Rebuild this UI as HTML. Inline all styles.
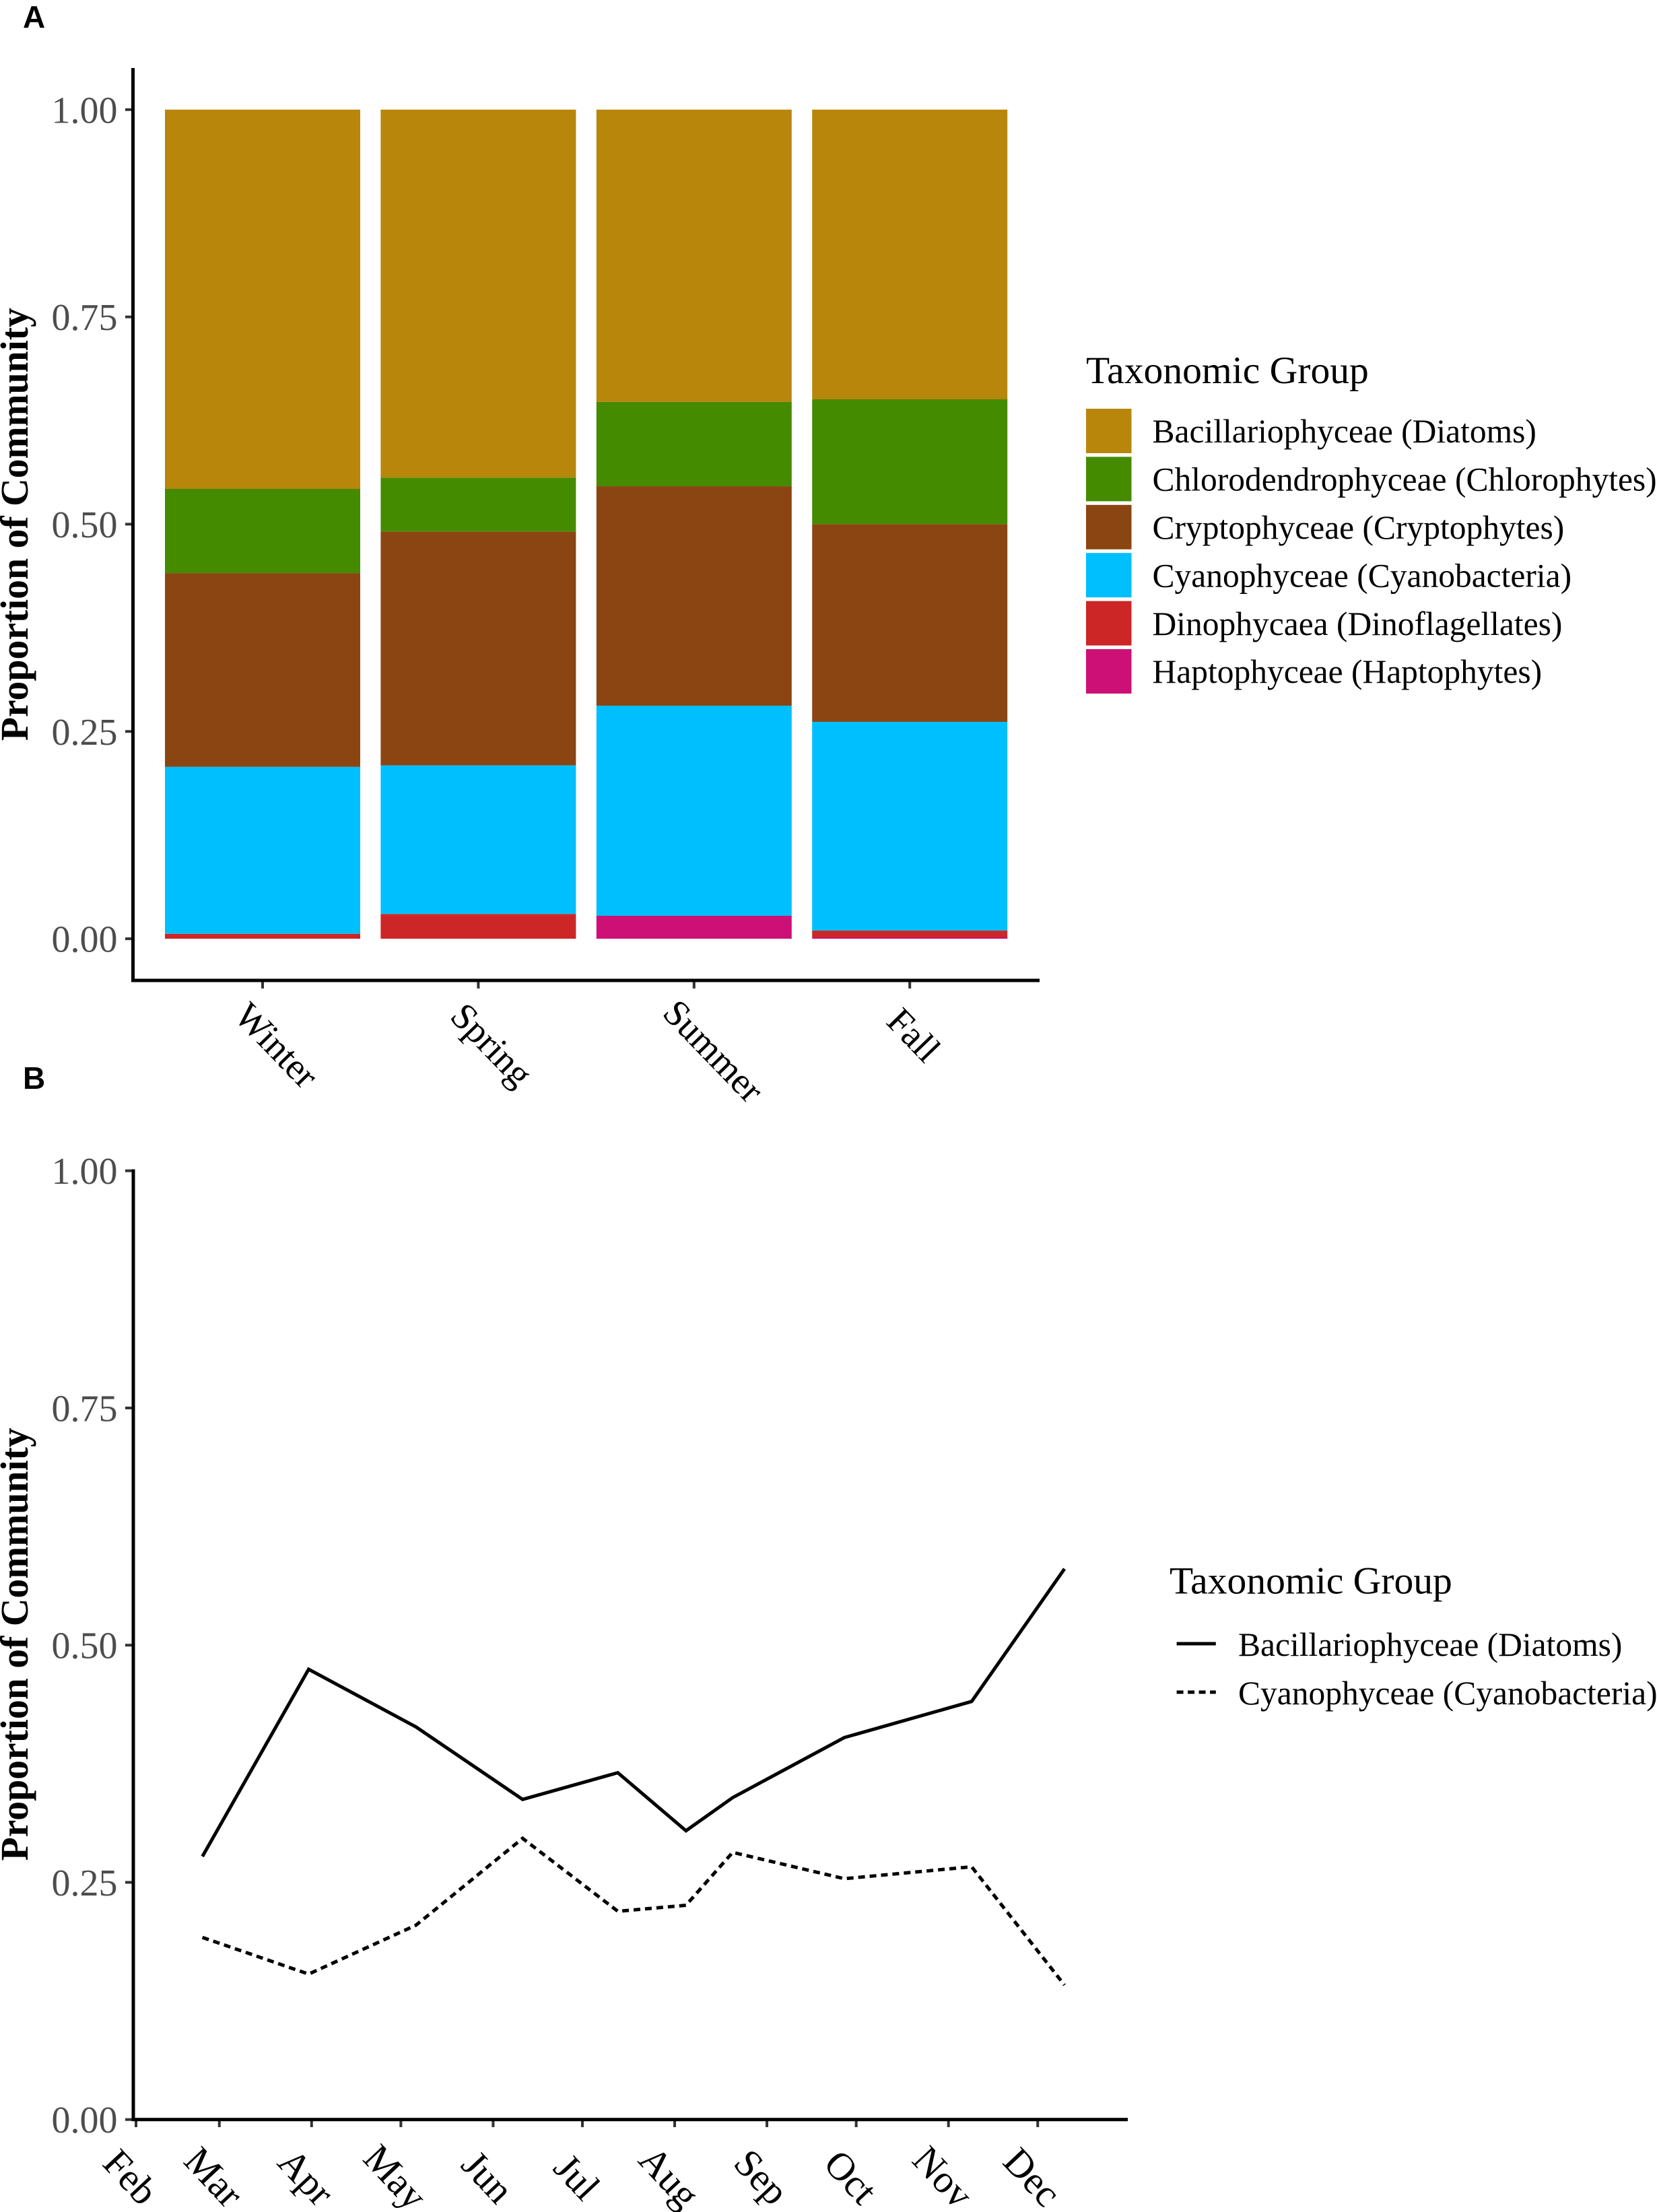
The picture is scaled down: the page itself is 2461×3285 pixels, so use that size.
<!DOCTYPE html>
<html lang="en">
<head>
<meta charset="utf-8">
<title>Proportion of phytoplankton community by season and month</title>
<style>
html,body{margin:0;padding:0;background:#fff;}
svg{display:block;}
text{font-family:"Liberation Serif",serif;}
</style>
</head>
<body>
<svg id="figure" xmlns="http://www.w3.org/2000/svg" width="2461" height="3285" viewBox="0 0 2461 3285">
  <rect x="0" y="0" width="2461" height="3285" fill="#ffffff"/>
  <text x="34" y="41" style="font-family:'Liberation Sans',sans-serif;font-weight:700;font-size:46px" fill="#000">A</text>
  <text x="34" y="1617" style="font-family:'Liberation Sans',sans-serif;font-weight:700;font-size:46px" fill="#000">B</text>
  <text transform="translate(41,778.7) rotate(-90)" text-anchor="middle" font-weight="700" font-size="57.7" fill="#000">Proportion of Community</text>
  <text transform="translate(41,2442) rotate(-90)" text-anchor="middle" font-weight="700" font-size="57.7" fill="#000">Proportion of Community</text>
  <text x="1613" y="569" font-size="57.6" fill="#000">Taxonomic Group</text>
  <text x="1737" y="2366.7" font-size="57.6" fill="#000">Taxonomic Group</text>
  <g id="panel-a"></g>
  <g id="panel-b"></g>
</svg>
<script>
// Panel A data (share of community per season, bottom of the stack first)
const seasons = ['Winter', 'Spring', 'Summer', 'Fall'];
const haptophytes = [0, 0, 0.0277, 0.0017];
const dinoflagellates = [0.006, 0.0299, 0, 0.0081];
const cyanobacteria = [0.2013, 0.1792, 0.2534, 0.2518];
const cryptophytes = [0.2337, 0.2821, 0.2647, 0.2385];
const chlorophytes = [0.1016, 0.065, 0.1018, 0.1505];
const diatoms = [0.4574, 0.4438, 0.3524, 0.3494];
const yTickValues = [0, 0.25, 0.5, 0.75, 1];
const yTickLabels = ['0.00', '0.25', '0.50', '0.75', '1.00'];
const legendLabelsA = ['Bacillariophyceae (Diatoms)', 'Chlorodendrophyceae (Chlorophytes)', 'Cryptophyceae (Cryptophytes)', 'Cyanophyceae (Cyanobacteria)', 'Dinophycaea (Dinoflagellates)', 'Haptophyceae (Haptophytes)'];
const legendColorsA = ['#B8860B', '#458B00', '#8B4513', '#00BFFF', '#CD2626', '#CD1076'];

// Panel B data
const monthLabels = ['Feb', 'Mar', 'Apr', 'May', 'Jun', 'Jul', 'Aug', 'Sep', 'Oct', 'Nov', 'Dec'];
const monthStartDays = [0, 28, 59, 89, 120, 150, 181, 212, 242, 273, 303];
const sampleDays = [22.3, 58, 94.1, 129.9, 161.9, 184.8, 200.5, 238, 280.8, 312];
const diatomSeries = [0.2773, 0.4746, 0.4138, 0.3374, 0.3656, 0.3044, 0.3393, 0.4026, 0.4407, 0.5805];
const cyanoSeries = [0.192, 0.1533, 0.2049, 0.2964, 0.2195, 0.2258, 0.2816, 0.2539, 0.2664, 0.1417];
const legendLabelsB = ['Bacillariophyceae (Diatoms)', 'Cyanophyceae (Cyanobacteria)'];

const NS = 'http://www.w3.org/2000/svg';
function make(parent, tag, attrs, txt) {
  const node = document.createElementNS(NS, tag);
  for (const k in attrs) node.setAttribute(k, attrs[k]);
  if (txt !== undefined) node.textContent = txt;
  parent.appendChild(node);
  return node;
}
const gA = document.getElementById('panel-a');
const gB = document.getElementById('panel-b');

// ----- Panel A scales
const yA = v => 1394.1 - v * 1231.3;
const xA = i => 390 + i * 320.4;
const barWidth = 290;
const stackSeries = [haptophytes, dinoflagellates, cyanobacteria, cryptophytes, chlorophytes, diatoms];
const stackColors = ['#CD1076', '#CD2626', '#00BFFF', '#8B4513', '#458B00', '#B8860B'];
const stackNames = ['haptophytes', 'dinoflagellates', 'cyanobacteria', 'cryptophytes', 'chlorophytes', 'diatoms'];

seasons.forEach((season, i) => {
  let cum = 0;
  stackSeries.forEach((series, s) => {
    const v = series[i];
    if (v > 0) {
      const r = make(gA, 'rect', {x: xA(i) - barWidth / 2, y: yA(cum + v), width: barWidth, height: yA(cum) - yA(cum + v), fill: stackColors[s]});
      
      
    }
    cum += v;
  });
  const t = make(gA, 'rect', {x: xA(i) - 2, y: 1456, width: 4, height: 12, fill: '#333'});
  
  
  const lab = make(gA, 'text', {transform: 'translate(' + (xA(i) - 13.6) + ',1516.6) rotate(46)', 'dominant-baseline': 'central', 'font-size': 55, fill: '#000'}, season);
  lab.setAttribute('x', (-0.17 * lab.getComputedTextLength()).toFixed(1));
  
  
});

yTickValues.forEach((v, i) => {
  const t = make(gA, 'rect', {x: 186, y: yA(v) - 2, width: 11, height: 4, fill: '#333'});
  
  
  const lab = make(gA, 'text', {x: 174.5, y: yA(v) + 19.5, 'text-anchor': 'end', 'font-size': 56, fill: '#4D4D4D'}, yTickLabels[i]);
  
  
});

const axisAy = make(gA, 'rect', {x: 195, y: 101, width: 5, height: 1357.5, fill: '#000'});


const axisAx = make(gA, 'rect', {x: 195, y: 1453.5, width: 1349, height: 5, fill: '#000'});



legendLabelsA.forEach((label, i) => {
  const sw = make(gA, 'rect', {x: 1613, y: 607 + i * 71.4, width: 67.5, height: 66, fill: legendColorsA[i]});
  
  
  const tx = make(gA, 'text', {x: 1711.5, y: 657.2 + i * 71.4, 'font-size': 49.5, fill: '#000'}, label);
  
  
});

// ----- Panel B scales
const yB = v => 3147.7 - v * 1409;
const xB = d => 202 + d * 4.42;

function pathFrom(days, values) {
  return days.map((d, i) => (i ? 'L' : 'M') + xB(d).toFixed(1) + ' ' + yB(values[i]).toFixed(1)).join(' ');
}
const solid = make(gB, 'path', {d: pathFrom(sampleDays, diatomSeries), fill: 'none', stroke: '#000', 'stroke-width': 5, 'stroke-linejoin': 'miter'});


const dashed = make(gB, 'path', {d: pathFrom(sampleDays, cyanoSeries), fill: 'none', stroke: '#000', 'stroke-width': 5, 'stroke-dasharray': '10 7', 'stroke-linejoin': 'miter'});



monthLabels.forEach((m, i) => {
  const x = xB(monthStartDays[i]);
  const t = make(gB, 'rect', {x: x - 2, y: 3147, width: 4, height: 12, fill: '#333'});
  
  
  const lab = make(gB, 'text', {transform: 'translate(' + (x - 8) + ',3233) rotate(47)', 'text-anchor': 'middle', 'dominant-baseline': 'central', 'font-size': 58, fill: '#000'}, m);
  
  
});

yTickValues.forEach((v, i) => {
  const t = make(gB, 'rect', {x: 186, y: yB(v) - 2, width: 11, height: 4, fill: '#333'});
  
  
  const lab = make(gB, 'text', {x: 174.5, y: yB(v) + 19.5, 'text-anchor': 'end', 'font-size': 56, fill: '#4D4D4D'}, yTickLabels[i]);
  
  
});

const axisBy = make(gB, 'rect', {x: 195.5, y: 1736.5, width: 5, height: 1413.5, fill: '#000'});


const axisBx = make(gB, 'rect', {x: 195.5, y: 3145.2, width: 1479.5, height: 5, fill: '#000'});



legendLabelsB.forEach((label, i) => {
  const ky = 2441 + i * 72;
  const key = make(gB, 'line', {x1: 1747.6, x2: 1805.8, y1: ky, y2: ky, stroke: '#000', 'stroke-width': 5});
  if (i === 1) key.setAttribute('stroke-dasharray', '10 6.5');
  
  
  const tx = make(gB, 'text', {x: 1839, y: 2459 + i * 72, 'font-size': 49.5, fill: '#000'}, label);
  
  
});
</script>
</body>
</html>
